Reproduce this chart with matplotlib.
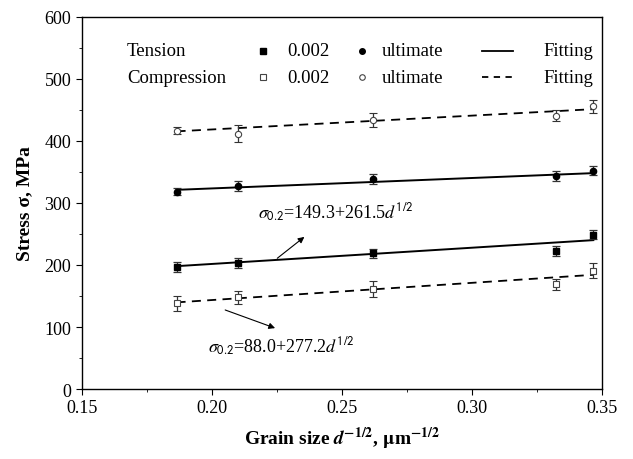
import numpy as np
import matplotlib.pyplot as plt

plt.rcParams['font.family'] = 'Liberation Serif'
plt.rcParams['mathtext.fontset'] = 'stix'

# grain size d^-1/2 (um^-1/2)
d_inv = [0.1865, 0.210, 0.2622, 0.3324, 0.3468]

# tension: 0.2% yield and ultimate strength (MPa)
ten_02 = [196.6, 203.6, 218.7, 222.4, 248.7]
ten_02_err = [7.5, 8, 7, 8.5, 7]
ten_ult = [318.3, 327.0, 338.4, 342.8, 351.8]
ten_ult_err = [6, 8, 8, 8, 7.5]

# compression: 0.2% yield and ultimate strength (MPa)
com_02 = [138.1, 147.8, 161.2, 168.7, 190.7]
com_02_err = [12, 10, 13.5, 8.5, 12.5]
com_ult = [416.3, 411.8, 433.5, 440.5, 455.6]
com_ult_err = [5.5, 13, 12, 9, 10]

# Hall-Petch fits: intercept, slope
fit_ten_02 = [149.3, 261.5]
fit_com_02 = [88.0, 277.2]
fit_ten_ult = [289.7, 168.0]
fit_com_ult = [373.7, 223.0]

fig = plt.figure(figsize=(6.33, 4.6), dpi=100)
ax = fig.add_axes([0.129, 0.152, 0.8215, 0.8095])

xf = np.array([d_inv[0], d_inv[-1]])
ax.plot(xf, fit_ten_02[0] + fit_ten_02[1] * xf, 'k-', lw=1.4)
ax.plot(xf, fit_ten_ult[0] + fit_ten_ult[1] * xf, 'k-', lw=1.4)
ax.plot(xf, fit_com_02[0] + fit_com_02[1] * xf, 'k--', lw=1.3, dashes=(5, 3.5))
ax.plot(xf, fit_com_ult[0] + fit_com_ult[1] * xf, 'k--', lw=1.3, dashes=(5, 3.5))

eb = dict(ls='none', ecolor='#333333', elinewidth=0.9, capsize=2.6, capthick=0.9, ms=4.5)
ax.errorbar(d_inv, ten_02, yerr=ten_02_err, marker='s', mfc='k', mec='k', **eb)
ax.errorbar(d_inv, ten_ult, yerr=ten_ult_err, marker='o', mfc='k', mec='k', **eb)
ax.errorbar(d_inv, com_02, yerr=com_02_err, marker='s', mfc='white', mec='#444444', mew=0.8, **eb)
ax.errorbar(d_inv, com_ult, yerr=com_ult_err, marker='o', mfc='white', mec='#444444', mew=0.8, **eb)

# fit equations with arrows
ax.annotate('', xy=(0.2365, 248), xytext=(0.2244, 208),
            arrowprops=dict(arrowstyle='-|>', color='k', lw=0.8, mutation_scale=9))
ax.text(0.2178, 285, r'$\sigma_{\mathsf{0.2}}$=149.3+261.5$d^{\mathsf{1/2}}$',
        fontsize=13, va='center', ha='left')
ax.annotate('', xy=(0.2254, 96.7), xytext=(0.2042, 129),
            arrowprops=dict(arrowstyle='-|>', color='k', lw=0.8, mutation_scale=9))
ax.text(0.1986, 70, r'$\sigma_{\mathsf{0.2}}$=88.0+277.2$d^{\mathsf{1/2}}$',
        fontsize=13, va='center', ha='left')

# legend block
tr = ax.transAxes
rows = [0.9087, 0.8372]
fs = 13.5
ax.text(0.0871, rows[0], 'Tension', transform=tr, fontsize=fs, va='center')
ax.text(0.0871, rows[1], 'Compression', transform=tr, fontsize=fs, va='center')
ax.plot([0.3494], [rows[0]], 's', color='k', ms=4, transform=tr)
ax.plot([0.3494], [rows[1]], 's', mfc='white', mec='#444444', mew=0.8, ms=4, transform=tr)
ax.plot([0.539], [rows[0]], 'o', color='k', ms=4, transform=tr)
ax.plot([0.539], [rows[1]], 'o', mfc='white', mec='#444444', mew=0.8, ms=4, transform=tr)
for r in rows:
    ax.text(0.3948, r, '0.002', transform=tr, fontsize=fs, va='center')
    ax.text(0.5775, r, 'ultimate', transform=tr, fontsize=fs, va='center')
    ax.text(0.8871, r, 'Fitting', transform=tr, fontsize=fs, va='center')
ax.plot([0.7698, 0.8294], [rows[0]] * 2, 'k-', lw=1.3, transform=tr)
ax.plot([0.7698, 0.8294], [rows[1]] * 2, 'k--', lw=1.3, dashes=(3.5, 3), transform=tr)

ax.set_xlim(0.15, 0.35)
ax.set_ylim(0, 600)
ax.set_xticks(np.arange(0.15, 0.351, 0.05))
ax.set_xticks(np.arange(0.175, 0.35, 0.05), minor=True)
ax.set_yticks(np.arange(0, 601, 100))
ax.set_yticks(np.arange(50, 600, 100), minor=True)
ax.xaxis.set_major_formatter(plt.FormatStrFormatter('%.2f'))
ax.tick_params(which='both', direction='out', labelsize=13, top=False, right=False)
ax.tick_params(which='major', length=4)
ax.tick_params(which='minor', length=2.5)
for s in ax.spines.values():
    s.set_linewidth(1.0)

ax.set_xlabel(r'Grain size $\boldsymbol{d}^{\mathbf{-1/2}}$, $\mathbf{\mu}$m$^{\mathbf{-1/2}}$',
              fontsize=14, fontweight='bold', labelpad=6)
ax.set_ylabel('Stress σ, MPa', fontsize=14, fontweight='bold', labelpad=8)

fig.savefig('out.png', dpi=100)
